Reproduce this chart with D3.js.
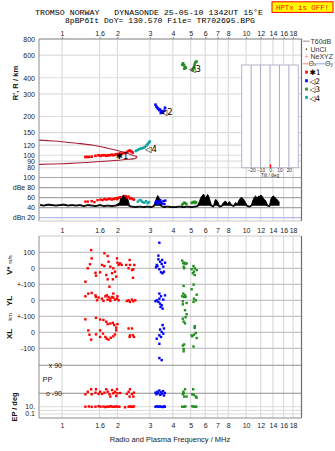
<!DOCTYPE html>
<html><head><meta charset="utf-8">
<script src="https://cdn.jsdelivr.net/npm/d3@7"></script>
<style>
html,body{margin:0;padding:0;background:#fff;}
svg{display:block;font-family:"Liberation Sans",Arial,sans-serif;}
</style></head><body>
<svg id="chart" width="335" height="451"></svg>
<script>
// ---------- axes ----------
const freqTicks = [1, 1.6, 2, 3, 4, 5, 6, 7, 8, 10, 12, 14, 16, 18];
const rangeTicks = [80, 90, 100, 120, 150, 200, 300, 400, 600, 800];
const dbTicks = [100, 80, 60, 40, 20];
const dbTickLabels = ["100", "dBe 80", "60", "40", "dBn 20"];
const tiltTicks = [-20, -10, 0, 10, 20];
const lowerTickLabels = ["100", "0", "+-100", "0", "+-100", "0", "-100"];

// ---------- model trace (virtual height, km) ----------
const modelUpper = [[0.75,131],[0.9,129],[1.0,127.5],[1.2,124],[1.48,119.5],[1.75,114],[2.0,109],[2.2,105],[2.4,100.5],[2.5,98.5],[2.56,97]];
const modelLower = [[2.56,97],[2.5,94.5],[2.3,93],[2.1,91.8],[1.8,90.3],[1.48,88.6],[1.2,87],[1.0,86],[0.75,85]];

// ---------- echo traces: frequency (MHz), R' (km) ----------
const trace1Range = [[1.34,97],[1.37,97],[1.4,97],[1.45,97.5],[1.52,99],[1.58,100],[1.62,99],[1.66,100],[1.7,100],[1.74,99],[1.78,100],[1.82,100],[1.86,101],[1.9,100],[1.94,101],[1.98,102],[2.02,101],[2.06,103],[2.1,102],[2.14,104],[2.2,104],[2.26,106],[2.3,108],[2.34,109],[2.38,107],[2.42,105]];
const trace2Range = [[3.22,247],[3.26,238],[3.3,233],[3.34,229],[3.38,224],[3.41,226],[3.44,213],[3.47,220],[3.5,218],[3.54,214],[3.6,222],[3.63,234]];
const trace3Range = [[4.5,505],[4.55,518],[4.6,500],[4.65,485],[4.7,478],[4.62,470],[5.12,458],[5.16,466],[5.2,482],[5.25,505],[5.3,525],[5.38,535]];
const trace4Range = [[2.52,108],[2.58,110],[2.64,112],[2.7,113],[2.76,114],[2.82,116],[2.88,119],[2.92,122],[2.96,125],[3.0,128]];
const traceNames = ["\u27311", "\u25C12", "\u25C13", "\u25C14"];
const traceMarkAt = [[1.96,99],[3.44,219],[4.9,468],[2.82,112]];

// ---------- amplitude (dB) ----------
const noiseDb = [[0.76,46],[0.798,45],[0.839,47],[0.882,46],[0.927,45],[0.974,46],[1.024,47],[1.077,45],[1.132,46],[1.19,45],[1.25,46],[1.315,44],[1.382,46],[1.453,45],[1.527,44],[1.606,46],[1.688,44],[1.774,45],[1.865,44],[1.96,45],[2.06,50],[2.09,60],[2.113,58],[2.14,64],[2.166,65],[2.19,62],[2.22,63],[2.25,61],[2.276,57],[2.33,44],[2.39,43],[2.51,42],[2.64,43],[2.78,42],[2.92,43],[3.07,42],[3.15,44],[3.22,52],[3.27,60],[3.31,64],[3.35,61],[3.39,57],[3.48,44],[3.56,42],[3.75,43],[3.94,42],[4.14,42],[4.35,43],[4.57,42],[4.81,43],[5.05,42],[5.31,43],[5.44,44],[5.58,52],[5.65,58],[5.72,62],[5.8,64],[5.87,67],[5.95,63],[6.01,60],[6.1,62],[6.17,66],[6.25,64],[6.32,58],[6.48,45],[6.65,43],[6.75,52],[6.82,56],[6.9,55],[6.99,53],[7.17,43],[7.35,44],[7.53,50],[7.63,52],[7.73,53],[7.92,48],[8.12,52],[8.33,46],[8.54,44],[8.76,50],[8.98,47],[9.1,53],[9.21,56],[9.33,59],[9.44,61],[9.56,58],[9.68,57],[9.8,54],[9.93,50],[10.18,44],[10.44,43],[10.7,45],[10.85,53],[10.97,57],[11.1,61],[11.25,63],[11.4,61],[11.54,60],[11.7,63],[11.83,62],[12.0,65],[12.13,64],[12.3,61],[12.44,58],[12.6,56],[12.76,54],[13.08,45],[13.41,44],[13.6,55],[13.75,60],[13.9,62],[14.1,63],[14.3,61],[14.46,59],[14.65,57],[14.83,55],[15.2,50]];
const trace1Db = [[1.34,52],[1.38,52],[1.45,53],[1.5,51],[1.56,55],[1.62,56],[1.66,55],[1.7,57],[1.74,56],[1.78,57],[1.82,58],[1.86,56],[1.9,57],[1.94,58],[1.98,59],[2.0,57],[2.04,60],[2.08,61],[2.22,63],[2.26,60],[2.3,62],[2.34,58],[2.38,59],[2.42,57],[2.46,56]];
const trace2Db = [[3.22,50],[3.26,53],[3.3,48],[3.34,52],[3.38,49],[3.42,55],[3.46,51],[3.5,48],[3.56,53],[3.6,47],[3.64,54]];
const trace3Db = [[4.5,46],[4.56,48],[4.62,50],[4.68,49],[4.74,47],[5.06,49],[5.12,51],[5.18,50],[5.24,52],[5.3,49],[5.36,51]];
const trace4Db = [[2.58,52],[2.64,55],[2.7,54],[2.74,51],[2.8,50],[2.86,53],[2.92,49],[2.97,51]];

// ---------- velocity V* (m/s) ----------
const trace1V = [[1.44,114],[1.45,62],[1.42,25],[1.38,0],[1.34,-84],[1.52,-28],[1.61,-25],[1.53,-46],[1.70,94],[1.77,77],[1.65,21],[1.70,14],[1.79,41],[1.83,10],[1.74,-42],[1.87,-31],[1.90,0],[1.94,-21],[1.99,62],[2.00,35],[2.03,21],[1.97,-52],[1.89,-69],[1.77,-69],[2.07,31],[2.11,21],[2.33,52],[2.34,21],[2.30,0],[2.40,-11],[2.44,-6],[2.47,21],[2.43,-59],[2.23,21],[1.81,-115]];
const trace2V = [[3.38,160],[3.34,79],[3.27,21],[3.24,6],[3.41,41],[3.48,27],[3.55,10],[3.38,-6],[3.45,-25],[3.52,-31],[3.58,-21],[3.63,35],[3.34,56],[3.30,14],[3.50,52]];
const trace3V = [[4.50,48],[4.56,31],[4.61,35],[4.69,27],[4.75,31],[4.58,10],[4.61,0],[5.18,14],[5.06,-6],[5.26,0],[5.39,-11],[5.21,-21],[5.13,-31],[5.26,-42]];

// ---------- YL (km) ----------
const trace1YL = [[1.34,25],[1.39,42],[1.45,46],[1.52,31],[1.55,0],[1.53,21],[1.58,17],[1.65,10],[1.72,25],[1.75,31],[1.79,21],[1.77,4],[1.83,10],[1.87,21],[1.90,17],[1.94,4],[1.99,10],[2.00,25],[1.90,42],[1.68,-4],[1.83,-4],[2.03,0],[2.30,0],[2.34,-10],[2.40,4],[2.44,-6],[2.50,0],[2.25,-4]];
const trace2YL = [[3.38,42],[3.45,25],[3.27,0],[3.34,-10],[3.41,-21],[3.48,-31],[3.52,-52],[3.43,-42],[3.55,4],[3.63,31],[3.38,10],[3.22,-6]];
const trace3YL = [[4.58,90],[5.19,98],[5.06,69],[5.39,35],[4.56,42],[4.66,31],[4.50,25],[4.61,21],[4.69,21],[5.21,10],[5.33,0],[5.18,-10],[4.53,-6],[4.53,-25],[4.75,-17],[4.66,-62],[4.75,-87]];

// ---------- XL (km) ----------
const trace1XL = [[1.34,81],[1.53,90],[1.39,12],[1.41,-15],[1.44,-46],[1.53,-13],[1.61,80],[1.68,77],[1.74,66],[1.77,51],[1.83,55],[1.89,59],[1.92,45],[1.97,29],[2.00,51],[1.61,12],[1.67,-8],[1.72,-29],[1.75,-40],[1.79,-46],[1.84,-34],[1.90,-25],[1.94,-13],[1.97,12],[1.61,-29],[2.30,24],[2.40,24],[2.34,-19],[2.43,-19],[2.46,-29],[2.33,-29]];
const trace2XL = [[3.52,45],[3.41,17],[3.48,2],[3.38,-19],[3.27,-40],[3.55,-8],[3.45,-29],[3.58,24],[3.38,-72],[3.38,-161],[3.48,-174]];
const trace3XL = [[4.69,94],[4.53,85],[4.58,67],[4.66,56],[5.26,38],[5.26,27],[5.33,-4],[5.21,-15],[5.06,-19],[5.10,-25],[5.39,-36],[4.53,-83],[4.61,-76],[4.58,-104],[4.58,-119],[5.18,-89]];

// ---------- polarization PP (deg) ----------
const trace1PP = [[1.34,-96],[1.38,-80],[1.44,-64],[1.45,-96],[1.53,-64],[1.52,-86],[1.61,-80],[1.65,-94],[1.70,-86],[1.74,-64],[1.77,-80],[1.81,-96],[1.87,-69],[1.90,-90],[1.94,-80],[1.97,-107],[2.00,-90],[1.99,-64],[1.83,-111],[2.30,-80],[2.34,-64],[2.40,-94],[2.46,-86],[2.33,-111],[2.44,-111],[2.25,-94],[2.07,-88],[1.58,-94]];
const trace2PP = [[3.22,-86],[3.26,-96],[3.3,-80],[3.34,-90],[3.38,-72],[3.42,-100],[3.46,-84],[3.5,-92],[3.54,-76],[3.58,-104],[3.62,-88]];
const trace3PP = [[4.56,-80],[4.66,-64],[4.53,-96],[4.61,-111],[4.75,-111],[5.16,-64],[5.10,-96],[5.21,-100],[5.33,-111],[5.39,-118],[4.58,-90]];

// ---------- EP (deg) ----------
const trace1EP = [[1.34,10],[1.4,12],[1.45,9],[1.52,10],[1.58,14],[1.62,10],[1.68,11],[1.72,8],[1.76,10],[1.8,10],[1.84,13],[1.88,10],[1.92,9],[1.96,12],[2.0,10],[2.05,10],[2.2,7],[2.3,10],[2.34,13],[2.38,9],[2.42,10],[2.46,12]];
const trace2EP = [[3.22,10],[3.28,13],[3.34,9],[3.4,12],[3.46,10],[3.52,8],[3.58,12],[3.62,10]];
const trace3EP = [[4.5,10],[4.6,9],[4.68,12],[5.1,13],[5.2,10],[5.3,9],[5.36,10]];

// ---------- styles ----------
const traceColors = ["#ff0000", "#0000ff", "#1f8f1f", "#12a3a3"];
const gridColor = "#dcdcdc";
const frameColor = "#8c8c8c";

// ---------- layout ----------
const L = 39, R = 301.5;
const topY = 39, topBottom = 175, dbBottom = 221, lowTop = 236, lowBottom = 418;

const x = d3.scaleLog().domain([0.75, 20]).range([L, R]);
const yR = d3.scaleLog().domain([70, 800]).range([175.2, 39]);
const yDb = d3.scaleLinear().domain([20, 100]).range([217.7, 177.5]);
const yV = d3.scaleLinear().domain([-100, 100]).range([284.3, 252.3]);
const yYL = d3.scaleLinear().domain([-100, 100]).range([316.3, 284.3]);
const yXL = d3.scaleLinear().domain([-100, 100]).range([348.3, 316.3]);
const yPP = d3.scaleLinear().domain([-90, 90]).range([393.3, 365.3]);
const yEP = d3.scaleLog().domain([0.1, 10]).range([414, 406.7]);
const xTilt = d3.scaleLinear().domain([-30, 30]).range([241.7, 298.3]);

const svg = d3.select("#chart");
const defs = svg.append("defs");
function addClip(id, x0, y0, w, h) {
  defs.append("clipPath").attr("id", id).append("rect")
    .attr("x", x0).attr("y", y0).attr("width", w).attr("height", h);
}
addClip("clipTop", L, topY, R - L, topBottom - topY);
addClip("clipDb", L, topBottom, R - L, dbBottom - topBottom);
addClip("clipLow", L, lowTop, R - L, lowBottom - lowTop);

// ---------- header ----------
svg.append("text").attr("x", 35).attr("y", 14.6)
  .attr("font-family", "Liberation Mono, monospace").attr("font-size", 7.4)
  .attr("textLength", 228).attr("lengthAdjust", "spacingAndGlyphs")
  .attr("xml:space", "preserve")
  .text("TROMSO NORWAY   DYNASONDE 25-05-10 1342UT 15\u00B0E");
svg.append("text").attr("x", 65).attr("y", 22.8)
  .attr("font-family", "Liberation Mono, monospace").attr("font-size", 7.4)
  .attr("textLength", 190).attr("lengthAdjust", "spacingAndGlyphs")
  .text("8pBP6It DoY= 130.570 File= TR702695.BPG");
svg.append("rect").attr("x", 272).attr("y", 1.8).attr("width", 61).attr("height", 10.6)
  .attr("fill", "#ffff00").attr("stroke", "#ff0000").attr("stroke-width", 1);
svg.append("text").attr("x", 302.5).attr("y", 10.3).attr("text-anchor", "middle")
  .attr("font-family", "Liberation Mono, monospace").attr("font-size", 7.8)
  .attr("fill", "#ff0000").attr("textLength", 53).attr("lengthAdjust", "spacingAndGlyphs")
  .text("HPTx is OFF!");

// ---------- grid ----------
const grid = svg.append("g");
grid.selectAll(".vgTop").data(freqTicks).join("line")
  .attr("x1", d => x(d)).attr("x2", d => x(d)).attr("y1", topY).attr("y2", dbBottom)
  .attr("stroke", gridColor).attr("stroke-width", 1.2);
grid.selectAll(".vgLow").data(freqTicks).join("line")
  .attr("x1", d => x(d)).attr("x2", d => x(d)).attr("y1", lowTop).attr("y2", lowBottom)
  .attr("stroke", gridColor).attr("stroke-width", 1.2);
grid.selectAll(".hgR").data(rangeTicks).join("line")
  .attr("x1", L).attr("x2", R).attr("y1", d => yR(d)).attr("y2", d => yR(d))
  .attr("stroke", gridColor).attr("stroke-width", 1.2);
grid.selectAll(".hgDb").data(dbTicks).join("line")
  .attr("x1", L).attr("x2", R).attr("y1", d => yDb(d)).attr("y2", d => yDb(d))
  .attr("stroke", d => d === 20 ? "#b8b8f4" : "#a6a6a6").attr("stroke-width", 1.2);

const lowerTickPos = [yV(100), yV(0), yV(-100), yYL(0), yYL(-100), yXL(0), yXL(-100)];
grid.selectAll(".hgLow").data(lowerTickPos).join("line")
  .attr("x1", L).attr("x2", R).attr("y1", d => d).attr("y2", d => d)
  .attr("stroke", "#c4c4c4").attr("stroke-width", 1.2);
grid.selectAll(".hgPP").data([90, -90]).join("line")
  .attr("x1", L).attr("x2", R).attr("y1", d => yPP(d)).attr("y2", d => yPP(d))
  .attr("stroke", "#8e8e8e").attr("stroke-width", 1.1);
grid.selectAll(".hgEP").data([10, 1, 0.1]).join("line")
  .attr("x1", L).attr("x2", R).attr("y1", d => yEP(d)).attr("y2", d => yEP(d))
  .attr("stroke", "#dadada").attr("stroke-width", 1);

// ---------- top panel: model and echoes ----------
const gTop = svg.append("g").attr("clip-path", "url(#clipTop)");
const lineR = d3.line().x(d => x(d[0])).y(d => yR(d[1])).curve(d3.curveCatmullRom);
[modelUpper, modelLower].forEach(m => {
  gTop.append("path").attr("d", lineR(m)).attr("fill", "none")
    .attr("stroke", "#a8203a").attr("stroke-width", 1.1);
});

function squares(g, data, ys, color, s) {
  s = s || 2.4;
  g.append("g").selectAll("rect").data(data).join("rect")
    .attr("x", d => x(d[0]) - s / 2).attr("y", d => ys(d[1]) - s / 2)
    .attr("width", s).attr("height", s).attr("fill", color);
}
[trace1Range, trace2Range, trace3Range, trace4Range].forEach((t, i) => squares(gTop, t, yR, traceColors[i], 2.6));

gTop.selectAll(".mark").data(traceMarkAt).join("text")
  .attr("x", d => x(d[0])).attr("y", d => yR(d[1]) + 3.5)
  .attr("font-family", "DejaVu Sans, sans-serif").attr("font-size", 8.5)
  .attr("fill", "#000").text((d, i) => traceNames[i]);

// ---------- amplitude panel ----------
const gDb = svg.append("g").attr("clip-path", "url(#clipDb)");
const noiseArea = d3.area().x(d => x(d[0]))
  .y0(d => yDb(Math.min(d[1] - 2.5, 44))).y1(d => yDb(d[1]));
gDb.append("path").attr("d", noiseArea(noiseDb)).attr("fill", "#000");
gDb.append("path").attr("d", d3.line().x(d => x(d[0])).y(d => yDb(d[1]))(noiseDb))
  .attr("fill", "none").attr("stroke", "#000").attr("stroke-width", 1);
[trace1Db, trace2Db, trace3Db, trace4Db].forEach((t, i) => squares(gDb, t, yDb, traceColors[i], 2.4));

// ---------- lower panel ----------
const gLow = svg.append("g").attr("clip-path", "url(#clipLow)");
[[trace1V, trace2V, trace3V, yV], [trace1YL, trace2YL, trace3YL, yYL], [trace1XL, trace2XL, trace3XL, yXL],
 [trace1PP, trace2PP, trace3PP, yPP], [trace1EP, trace2EP, trace3EP, yEP]].forEach(row => {
  for (let i = 0; i < 3; i++) squares(gLow, row[i], row[3], traceColors[i], 2.4);
});

// ---------- tilt inset ----------
const gTilt = svg.append("g");
gTilt.append("rect").attr("x", xTilt(-30)).attr("y", 65).attr("width", xTilt(30) - xTilt(-30)).attr("height", 102.7)
  .attr("fill", "#fff").attr("stroke", "#b4b4c8").attr("stroke-width", 1);
gTilt.selectAll(".tg").data(tiltTicks).join("line")
  .attr("x1", d => xTilt(d)).attr("x2", d => xTilt(d)).attr("y1", 65).attr("y2", 167.7)
  .attr("stroke", "#a8a8c0").attr("stroke-width", 1);
gTilt.append("line").attr("x1", xTilt(0) + 0.5).attr("x2", xTilt(0) + 0.5).attr("y1", 164.5).attr("y2", 167.7)
  .attr("stroke", "#ff0000").attr("stroke-width", 1.4);
gTilt.append("g").attr("transform", "translate(0,167.7)")
  .call(d3.axisBottom(xTilt).tickValues(tiltTicks).tickSize(0))
  .call(g => g.select(".domain").remove())
  .call(g => g.selectAll("text").attr("dy", null).attr("y", 4.2).attr("font-size", 4.8)
    .attr("font-family", "Liberation Sans, Arial, sans-serif").attr("fill", "#333"));
gTilt.append("text").attr("x", xTilt(0)).attr("y", 177.2).attr("text-anchor", "middle")
  .attr("font-size", 4.8).attr("fill", "#333").text("Tilt / deg");

// ---------- frames ----------
const frame = svg.append("g").attr("fill", "none");
frame.append("line").attr("x1", L).attr("x2", R).attr("y1", topY).attr("y2", topY).attr("stroke", frameColor);
frame.append("line").attr("x1", L).attr("x2", L).attr("y1", topY).attr("y2", dbBottom).attr("stroke", frameColor);
frame.append("line").attr("x1", R).attr("x2", R).attr("y1", topY).attr("y2", dbBottom).attr("stroke", "#6e6e6e").attr("stroke-width", 1.2);
frame.append("line").attr("x1", L).attr("x2", R).attr("y1", dbBottom).attr("y2", dbBottom).attr("stroke", "#c8c8c8");
frame.append("line").attr("x1", L).attr("x2", R).attr("y1", lowTop).attr("y2", lowTop).attr("stroke", "#c8c8c8");
frame.append("line").attr("x1", L).attr("x2", L).attr("y1", lowTop).attr("y2", lowBottom).attr("stroke", frameColor);
frame.append("line").attr("x1", R).attr("x2", R).attr("y1", lowTop).attr("y2", lowBottom).attr("stroke", "#6e6e6e").attr("stroke-width", 1.2);
frame.append("line").attr("x1", L).attr("x2", R).attr("y1", lowBottom).attr("y2", lowBottom).attr("stroke", frameColor);

// ---------- axes ----------
const tickFont = g => g.selectAll("text").attr("font-size", 7).attr("fill", "#222")
  .attr("font-family", "Liberation Sans, Arial, sans-serif");
const fmtF = d3.format("");
svg.append("g").attr("transform", `translate(0,${topY})`)
  .call(d3.axisTop(x).tickValues(freqTicks).tickFormat(fmtF).tickSize(2).tickPadding(1.3))
  .call(g => g.select(".domain").remove())
  .call(g => g.selectAll("line").attr("stroke", "#888"))
  .call(tickFont);
[[dbBottom, 232.6], [lowBottom, 427.6]].forEach(([y0, base]) => {
  svg.append("g").attr("transform", `translate(0,${y0})`)
    .call(d3.axisBottom(x).tickValues(freqTicks).tickFormat(fmtF).tickSize(0))
    .call(g => g.select(".domain").remove())
    .call(tickFont)
    .call(g => g.selectAll("text").attr("dy", null).attr("y", base - y0));
});
svg.append("g").attr("transform", `translate(${L},0)`)
  .call(d3.axisLeft(yR).tickValues(rangeTicks).tickFormat(d3.format("d")).tickSize(0).tickPadding(4))
  .call(g => g.select(".domain").remove())
  .call(tickFont);
svg.append("g").attr("transform", `translate(${L},0)`)
  .call(d3.axisLeft(yDb).tickValues(dbTicks).tickFormat((d, i) => dbTickLabels[i]).tickSize(0).tickPadding(4))
  .call(g => g.select(".domain").remove())
  .call(tickFont);

const lowAxis = svg.append("g").attr("font-family", "Liberation Sans, Arial, sans-serif").attr("font-size", 7).attr("fill", "#222");
lowAxis.selectAll(".lt").data(lowerTickPos).join("text")
  .attr("x", 35).attr("y", d => d + 2.4).attr("text-anchor", "end")
  .text((d, i) => lowerTickLabels[i]);
lowAxis.append("text").attr("x", 62).attr("y", yPP(90) + 2.4).attr("text-anchor", "end").text("x 90");
lowAxis.append("text").attr("x", 62).attr("y", yPP(-90) + 2.4).attr("text-anchor", "end").text("o -90");
lowAxis.append("text").attr("x", 42.5).attr("y", 381.8).attr("font-size", 7.4).text("PP");
lowAxis.append("text").attr("x", 35).attr("y", yEP(10) + 2.4).attr("text-anchor", "end").text("10.");
lowAxis.append("text").attr("x", 35).attr("y", yEP(0.1) + 2.4).attr("text-anchor", "end").text("0.1");

// ---------- axis titles ----------
function vTitle(cx, cy, parts) {
  const t = svg.append("text").attr("transform", `translate(${cx},${cy}) rotate(-90)`)
    .attr("text-anchor", "middle").attr("fill", "#111");
  parts.forEach(p => t.append("tspan").attr("font-size", p[1]).attr("font-weight", p[2] || "normal").text(p[0]));
}
vTitle(17.5, 83, [["R', R / km", 7.6, "bold"]]);
vTitle(12, 265, [["V* ", 8, "bold"], ["m/s", 5.6]]);
vTitle(12, 301, [["YL", 8, "bold"]]);
vTitle(12, 326, [["XL", 8, "bold"], ["\u2003\u2002km", 5.6]]);
vTitle(17, 407, [["EP / deg", 7.4, "bold"]]);
svg.append("text").attr("x", 170).attr("y", 441.8).attr("text-anchor", "middle")
  .attr("font-size", 7.5).attr("fill", "#222").text("Radio and Plasma Frequency / MHz");

// ---------- legend ----------
const lg = svg.append("g").attr("font-size", 7).attr("fill", "#333");
lg.append("line").attr("x1", 303).attr("x2", 309.5).attr("y1", 41.2).attr("y2", 41.2).attr("stroke", "#a0a0a0").attr("stroke-width", 1.2);
lg.append("text").attr("x", 310.5).attr("y", 44.2).text("T60dB");
lg.append("rect").attr("x", 305.8).attr("y", 48.6).attr("width", 1.2).attr("height", 1.2).attr("fill", "#000");
lg.append("text").attr("x", 310.5).attr("y", 51.8).text("UnCl");
lg.append("text").attr("x", 306.5).attr("y", 58.6).attr("text-anchor", "middle").attr("fill", "#ff7c8c").text("+");
lg.append("text").attr("x", 310.5).attr("y", 58.6).text("NeXYZ");
lg.append("line").attr("x1", 303).attr("x2", 308).attr("y1", 63.8).attr("y2", 63.8).attr("stroke", "#ff8c8c").attr("stroke-width", 1.1);
const th = lg.append("text").attr("x", 308.5).attr("y", 66.4);
th.append("tspan").text("\u0398");
th.append("tspan").attr("font-size", 5.2).text("x");
lg.append("line").attr("x1", 317).attr("x2", 324.5).attr("y1", 63.8).attr("y2", 63.8).attr("stroke", "#9c9cff").attr("stroke-width", 1.1);
const th2 = lg.append("text").attr("x", 325).attr("y", 66.4);
th2.append("tspan").text("\u0398");
th2.append("tspan").attr("font-size", 5.2).text("y");
const legendY = [72.2, 80.8, 89.2, 97.5];
lg.selectAll(".sw").data(traceColors).join("rect")
  .attr("x", 305.2).attr("y", (d, i) => legendY[i] - 1.6).attr("width", 2.6).attr("height", 3)
  .attr("fill", d => d);
lg.selectAll(".sl").data(traceNames).join("text")
  .attr("x", 309.5).attr("y", (d, i) => legendY[i] + 3)
  .attr("font-family", "DejaVu Sans, sans-serif").attr("font-size", 7.6).attr("fill", "#000")
  .text(d => d);
</script>
</body></html>
